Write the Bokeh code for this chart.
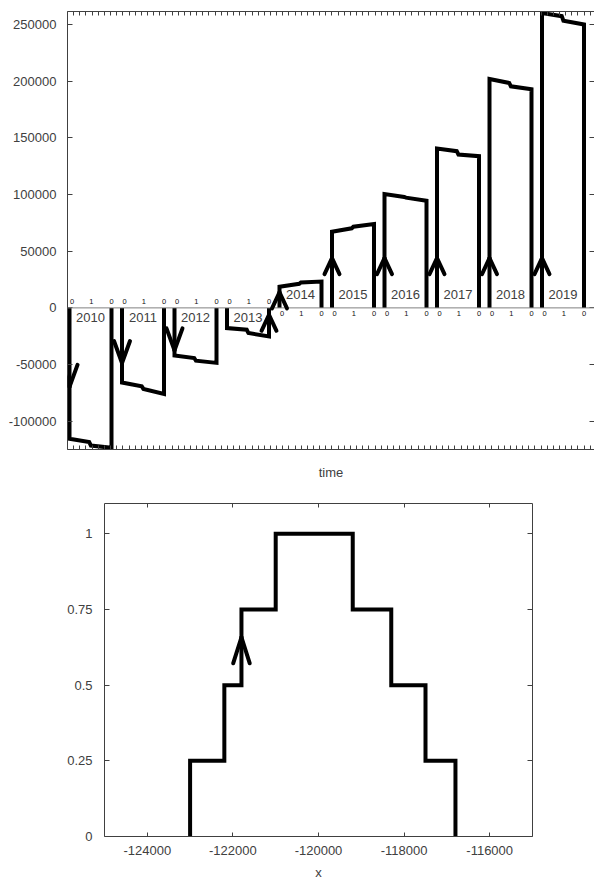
import numpy as np
from bokeh.plotting import figure
from bokeh.models import (Range1d, LinearAxis, FixedTicker, NumeralTickFormatter, Span,
                          ColumnDataSource, Arrow, TeeHead)
from bokeh.embed import file_html
from bokeh.resources import INLINE
from bokeh.core.properties import value

# ---------------- data (top chart) ----------------
years = [2010, 2011, 2012, 2013, 2014, 2015, 2016, 2017, 2018, 2019]
start_vals = [-115500, -65800, -42000, -17800, 18600, 67200, 100400, 140600, 201900, 260000]
mid_a_vals = [-118400, -69200, -44200, -19300, 21200, 70200, 97800, 138200, 198400, 257300]
mid_b_vals = [-121400, -71500, -46600, -22200, 22400, 71600, 97200, 135300, 195400, 253300]
end_vals = [-123400, -76000, -48500, -25200, 23200, 74000, 94500, 133800, 192800, 250000]
sub_labels = ["0", "1", "0"]
arrow_on = ["start", "start", "start", "end", "start", "start", "start", "start", "start", "start"]
arrow_dir = ["down", "down", "down", "up", "up", "up", "up", "up", "up", "up"]
arrow_tip = [-69600, -48600, -37500, -6100, 13600, 43800, 43800, 43800, 43800, 43800]
y_ticks_top = [-100000, -50000, 0, 50000, 100000, 150000, 200000, 250000]

# ---------------- data (bottom chart) ----------------
dist_x = [-123000, -123000, -122200, -121800, -121000, -119200, -118300, -117500, -116800]
dist_y = [0.0, 0.25, 0.5, 0.75, 1.0, 0.75, 0.5, 0.25, 0.0]
dist_arrow_x = -121800
dist_arrow_tip = 0.658
x_ticks_bottom = [-124000, -122000, -120000, -118000, -116000]
y_ticks_bottom = [0, 0.25, 0.5, 0.75, 1]

# ---------------- styles ----------------
FONT = "Liberation Sans"
AX = "#404040"
TXT = "#404040"
BOX_W = 0.8
STEP_A, STEP_B = 0.47, 0.51
SUB_FRACS = [0.06, 0.52, 1.0]


def add_axis(p, place, ticks, show_labels=False, fmt=None, label=None,
             standoff=11, label_standoff=10, tick_in=5):
    if show_labels:
        ax = LinearAxis(ticker=FixedTicker(ticks=list(ticks), minor_ticks=[]))
        ax.major_label_text_font = FONT
        ax.major_label_text_font_size = "13px"
        ax.major_label_text_color = TXT
        ax.major_label_standoff = standoff
        if fmt is not None:
            ax.formatter = fmt
    else:
        # unlabeled tick marks: drawn as minor ticks, so no labels exist
        ax = LinearAxis(ticker=FixedTicker(ticks=[], minor_ticks=list(ticks)))
        ax.major_label_standoff = 0
    ax.major_tick_in = tick_in
    ax.major_tick_out = 0
    ax.minor_tick_in = tick_in
    ax.minor_tick_out = 0
    ax.minor_tick_line_color = AX
    ax.major_tick_line_color = AX
    ax.axis_line_color = AX
    ax.axis_line_width = 1
    if label is not None:
        ax.axis_label = label
        ax.axis_label_text_font = FONT
        ax.axis_label_text_font_size = "13px"
        ax.axis_label_text_font_style = "normal"
        ax.axis_label_text_color = TXT
        ax.axis_label_standoff = label_standoff
    p.add_layout(ax, place)
    return ax


def v_heads(p, tips_x, tips_y, dirs, back_px, half_px, xpp, ypp):
    """Open V arrow heads: every wing is a TeeHead stroke centred on the wing's
    midpoint (arrow heads are not clipped to the frame; the bodies are hidden)."""
    wing_len = (back_px ** 2 + half_px ** 2) ** 0.5
    x0, y0, x1, y1 = [], [], [], []
    for tx, ty, d in zip(tips_x, tips_y, dirs):
        sgn = 1 if d == "down" else -1          # wings above the tip for a down arrow
        for side in (-1, 1):
            wx, wy = side * half_px, sgn * back_px   # tip -> wing end, px, y up
            mx, my = wx / 2, wy / 2
            nx, ny = -wy / wing_len * 10, wx / wing_len * 10
            x1.append(tx + mx * xpp)
            y1.append(ty + my * ypp)
            x0.append(tx + (mx - nx) * xpp)
            y0.append(ty + (my - ny) * ypp)
    src = ColumnDataSource(dict(x0=x0, y0=y0, x1=x1, y1=y1))
    p.add_layout(Arrow(x_start="x0", y_start="y0", x_end="x1", y_end="y1", source=src,
                       start=None,
                       end=TeeHead(size=wing_len, line_color="black", line_width=4,
                                   line_cap="round"),
                       line_alpha=0))


# ================= top chart =================
W1, H1 = 594, 482
L1, R1, T1 = 67, 0, 11
fw1, fh1 = W1 - L1 - R1, 439
B1 = H1 - T1 - fh1
PX_PER_UNIT = 52.5
x_start = -2.0 / PX_PER_UNIT
x_end = x_start + fw1 / PX_PER_UNIT
y_lo, y_hi = -124900, 261400
dx_px = (x_end - x_start) / fw1
dy_px = (y_hi - y_lo) / fh1

p1 = figure(width=W1, height=H1, x_range=Range1d(x_start, x_end), y_range=Range1d(y_lo, y_hi),
            output_backend="svg", toolbar_location=None,
            x_axis_location=None, y_axis_location=None,
            min_border_left=L1, min_border_right=R1, min_border_top=T1, min_border_bottom=B1)
p1.xgrid.visible = False
p1.ygrid.visible = False
p1.outline_line_color = None

x_tick_pos = np.arange(x_start, x_end + 1e-9, 6.15 / PX_PER_UNIT)
add_axis(p1, "left", y_ticks_top, show_labels=True, fmt=NumeralTickFormatter(format="0"), standoff=11)
add_axis(p1, "right", y_ticks_top)
add_axis(p1, "above", x_tick_pos, tick_in=4)
add_axis(p1, "below", x_tick_pos, tick_in=4, label="time", label_standoff=15)

p1.add_layout(Span(location=0, dimension="width", line_color="#808080", line_width=1))

xs, ys = [], []
for k in range(len(years)):
    xs0 = k
    xe = k + BOX_W
    xs.append([xs0, xs0, xs0 + STEP_A * BOX_W, xs0 + STEP_B * BOX_W, xe, xe])
    ys.append([0, start_vals[k], mid_a_vals[k], mid_b_vals[k], end_vals[k], 0])
p1.multi_line(xs, ys, line_color="black", line_width=4, line_join="miter")

# arrow heads (down heads longer than up heads, as in the reference)
dn = [k for k in range(len(years)) if arrow_dir[k] == "down"]
up = [k for k in range(len(years)) if arrow_dir[k] == "up"]
a_x = [k if arrow_on[k] == "start" else k + BOX_W for k in range(len(years))]
v_heads(p1, [a_x[k] for k in dn], [arrow_tip[k] for k in dn], ["down"] * len(dn), 22, 8, dx_px, dy_px)
v_heads(p1, [a_x[k] for k in up], [arrow_tip[k] for k in up], ["up"] * len(up), 16, 7.5, dx_px, dy_px)

# year labels and sub labels
yl_x, yl_y, yl_t, yl_off = [], [], [], []
sl_x, sl_y, sl_t, sl_off = [], [], [], []
for k, yr in enumerate(years):
    neg = start_vals[k] < 0
    yl_x.append(k + BOX_W / 2)
    yl_y.append(0)
    yl_t.append(str(yr))
    yl_off.append(10 if neg else -13)
    for f, t in zip(SUB_FRACS, sub_labels):
        sl_x.append(k + f * BOX_W)
        sl_y.append(0)
        sl_t.append(t)
        sl_off.append(-6.5 if neg else 5.5)

p1.text(x="x", y="y", text="t", y_offset="o",
        source=ColumnDataSource(dict(x=yl_x, y=yl_y, t=yl_t, o=yl_off)),
        text_font=value(FONT), text_font_size="13px", text_color=TXT,
        text_align="center", text_baseline="middle")
p1.text(x="x", y="y", text="t", y_offset="o",
        source=ColumnDataSource(dict(x=sl_x, y=sl_y, t=sl_t, o=sl_off)),
        text_font=value(FONT), text_font_size="7.5px", text_color="#111111",
        text_align="center", text_baseline="middle")

# ================= bottom chart =================
W2, H2 = 594, 882 - H1
L2, T2 = 104, 21
fw2, fh2 = 428, 334
R2 = W2 - L2 - fw2
B2 = H2 - T2 - fh2
bx_lo, bx_hi = -125000, -115000
by_lo, by_hi = 0, 1.1
bdx = (bx_hi - bx_lo) / fw2
bdy = (by_hi - by_lo) / fh2

p2 = figure(width=W2, height=H2, x_range=Range1d(bx_lo, bx_hi), y_range=Range1d(by_lo, by_hi),
            output_backend="svg", toolbar_location=None,
            x_axis_location=None, y_axis_location=None,
            min_border_left=L2, min_border_right=R2, min_border_top=T2, min_border_bottom=B2)
p2.xgrid.visible = False
p2.ygrid.visible = False
p2.outline_line_color = None

add_axis(p2, "left", y_ticks_bottom, show_labels=True, fmt=NumeralTickFormatter(format="0.[00]"), standoff=12)
add_axis(p2, "right", y_ticks_bottom)
add_axis(p2, "above", x_ticks_bottom, tick_in=4)
add_axis(p2, "below", x_ticks_bottom, show_labels=True, fmt=NumeralTickFormatter(format="0"),
         standoff=9, label="x", label_standoff=7, tick_in=4)

p2.step(dist_x, dist_y, mode="after", line_color="black", line_width=4, line_join="miter")
v_heads(p2, [dist_arrow_x], [dist_arrow_tip], ["up"], 26, 8.3, bdx, bdy)

open("out.html", "w").write(file_html([p1, p2], INLINE))
